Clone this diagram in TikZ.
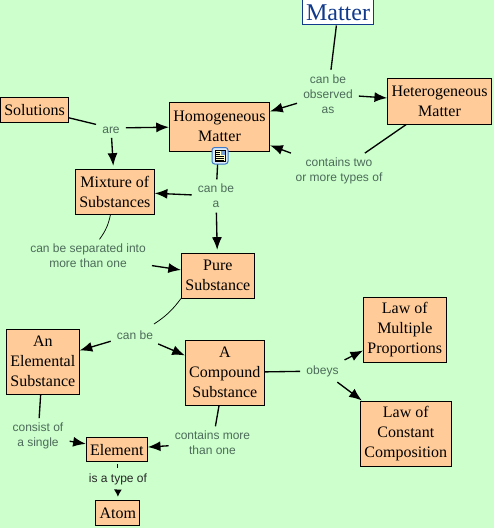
\documentclass[tikz,border=0pt]{standalone}
\usepackage{fontspec}
\setmainfont{Liberation Serif}
\setsansfont{Liberation Sans}
\usetikzlibrary{arrows.meta}
\definecolor{pageGreen}{HTML}{CCFFCC}
\definecolor{conceptOrange}{HTML}{FFCC99}
\definecolor{titleBlue}{HTML}{123A8C}
\definecolor{phraseGrey}{HTML}{4D6B5A}
\definecolor{iconBlue}{HTML}{3B78C8}
\definecolor{iconFill}{HTML}{DCEBFA}
\definecolor{iconPaper}{HTML}{FFFFC8}
\tikzset{
  concept/.style={draw=black, line width=0.75pt, fill=conceptOrange, align=center, inner xsep=2.9pt, inner ysep=0pt, font=\fontsize{12}{15}\selectfont, execute at begin node={\rule{0pt}{9.6pt}}},
  phrase/.style={align=center, inner xsep=4.5pt, inner ysep=3.4pt, text=phraseGrey, font=\sffamily\fontsize{9}{11.25}\selectfont, execute at begin node={\rule{0pt}{7.6pt}}},
  link/.style={line width=1pt, -{Latex[length=9.5pt,width=7.5pt]}},
  stub/.style={line width=1pt},
  hair/.style={line width=0.55pt}
}
\begin{document}
\begin{tikzpicture}[x=0.75pt,y=-0.75pt]
    \fill[pageGreen] (0,0) rectangle (494,528);
    \useasboundingbox (0,0) rectangle (494,528);

    % concepts
    \node[draw=titleBlue, line width=0.75pt, fill=white, text=titleBlue, font=\fontsize{18}{20}\selectfont, inner xsep=2.4pt, inner ysep=0pt, minimum height=18.75pt] (matter) at (338,12.5) {Matter};
    \node[concept, minimum height=36.75pt] (homog) at (219.5,126.5) {Homogeneous\\Matter};
    \node[concept, minimum height=33.75pt] (heterog) at (439.5,101.5) {Heterogeneous\\Matter};
    \node[concept, minimum height=18.75pt] (solutions) at (34.5,109.5) {Solutions};
    \node[concept, minimum height=33.75pt] (mixture) at (114.8,191.5) {Mixture of\\Substances};
    \node[concept, minimum height=33.75pt] (pure) at (217.8,275.5) {Pure\\Substance};
    \node[concept, minimum height=48.75pt] (elemental) at (42.8,361.5) {An\\Elemental\\Substance};
    \node[concept, minimum height=48.75pt] (compound) at (224.8,372.5) {A\\Compound\\Substance};
    \node[concept, minimum height=18pt] (element) at (116.8,449) {Element};
    \node[concept, minimum height=18.75pt] (atom) at (117.8,512.5) {Atom};
    \node[concept, minimum height=48.75pt] (multiple) at (404.8,329.5) {Law of\\Multiple\\Proportions};
    \node[concept, minimum height=48.75pt] (constant) at (405.8,433.5) {Law of\\Constant\\Composition};

    % linking phrases
    \node[phrase] (observed) at (328,94) {can be\\observed\\as};
    \node[phrase] (containsTwo) at (339,171) {contains two\\or more types of};
    \node[phrase] (are) at (111,128) {are};
    \node[phrase] (canBeA) at (216,196) {can be\\a};
    \node[phrase] (separated) at (88,256) {can be separated into\\more than one};
    \node[phrase] (canBe) at (135,334) {can be};
    \node[phrase] (consist) at (38,436) {consist of\\a single};
    \node[phrase] (containsMore) at (212.5,443) {contains more\\than one};
    \node[phrase] (obeys) at (322.5,371) {obeys};
    \node[phrase, text=black!85] (typeOf) at (118,479) {is a type of};

    % connectors
    \foreach \a/\b in {matter/observed, heterog/containsTwo, solutions/are, homog/canBeA, elemental/consist, compound/containsMore, compound/obeys} {
      \draw[stub] (\a) -- (\b);
    }
    \foreach \a/\b in {observed/homog, observed/heterog, containsTwo/homog, are/homog, canBeA/mixture, separated/pure, canBe/elemental, canBe/compound, consist/element, containsMore/element, obeys/multiple, obeys/constant} {
      \draw[link] (\a) -- (\b);
    }
    \draw[link, shorten >=2pt] (are) -- (mixture);
    \draw[link, shorten >=2pt] (canBeA) -- (pure);
    \draw[line width=0.9pt, -{Latex[length=5.5pt,width=6pt]}, shorten >=2pt] (typeOf) -- (atom);
    \draw[hair, shorten <=2pt] (element) -- (typeOf);
    \draw[hair] (mixture) to[bend left=12] (separated);
    \draw[hair] (pure.south west) to[bend left=10] (canBe);

    % resource icon
    \fill[iconFill, draw=iconBlue, line width=0.75pt, rounded corners=2pt] (212,147.5) rectangle (228,164);
    \fill[iconPaper, draw=black, line width=0.4pt] (215,150) rectangle (225,161.5);
    \fill[iconBlue!70] (220.5,150.5) rectangle (224.5,154.5);
    \foreach \y in {152,154,156,158,160} {
      \draw[black, line width=0.4pt] (216,\y) -- (\ifnum\y<155 219.5\else 224\fi,\y);
    }
\end{tikzpicture}
\end{document}
